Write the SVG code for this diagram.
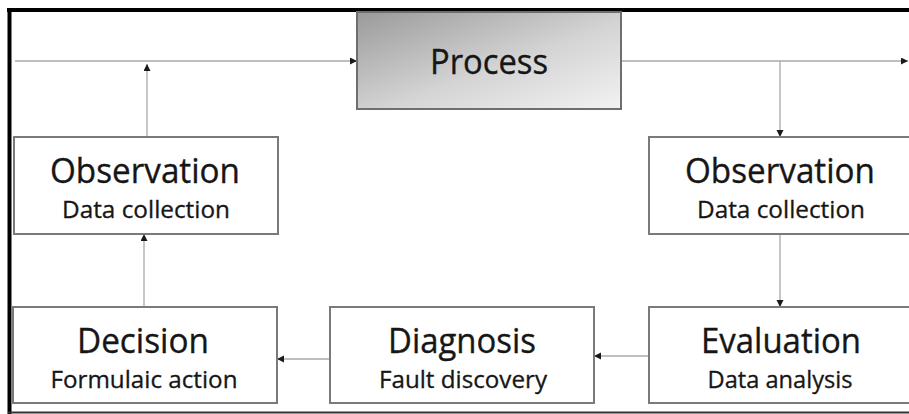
<svg xmlns="http://www.w3.org/2000/svg" width="909" height="414" viewBox="0 0 909 414">
  <defs>
    <linearGradient id="procFill" x1="0" y1="0" x2="1" y2="1">
      <stop offset="0" stop-color="#9a9a9a"/>
      <stop offset="0.55" stop-color="#d4d4d4"/>
      <stop offset="1" stop-color="#f2f2f2"/>
    </linearGradient>
    <marker id="arrow" markerUnits="userSpaceOnUse" markerWidth="8" markerHeight="8" refX="7" refY="3.5" orient="auto">
      <path d="M0,0 L7,3.5 L0,7 z" fill="#1a1a1a"/>
    </marker>
  </defs>
  <style>
    .box { fill: #ffffff; stroke: #7a7a7a; stroke-width: 2; }
    .proc { fill: url(#procFill); stroke: #6e6e6e; stroke-width: 2; }
    .title { font-family: "Open Sans", "Liberation Sans", sans-serif; font-size: 34px; fill: #161616; stroke: #161616; stroke-width: 0.35; text-anchor: middle; }
    .sub { font-family: "Open Sans", "Liberation Sans", sans-serif; font-size: 24px; fill: #161616; stroke: #161616; stroke-width: 0.3; text-anchor: middle; }
    .link { fill: none; stroke: #a8a8a8; stroke-width: 1.3; marker-end: url(#arrow); }
  </style>

  <rect width="909" height="414" fill="#ffffff"/>

  <!-- outer frame -->
  <g id="frame" fill="none" stroke="#000000">
    <line x1="7" y1="10" x2="909" y2="10" stroke-width="4"/>
    <line x1="9.5" y1="8" x2="9.5" y2="414" stroke-width="4"/>
    <line x1="8" y1="412.5" x2="909" y2="412.5" stroke-width="2" stroke="#333333"/>
  </g>

  <!-- connectors -->
  <g id="connectors">
    <line class="link" x1="15" y1="61" x2="357" y2="61"/>
    <line class="link" x1="621" y1="61" x2="908" y2="61"/>
    <line class="link" x1="780" y1="61" x2="780" y2="137"/>
    <line class="link" x1="147" y1="137" x2="147" y2="64"/>
    <line class="link" x1="780" y1="234" x2="780" y2="307"/>
    <line class="link" x1="649" y1="356" x2="594" y2="356"/>
    <line class="link" x1="330" y1="359" x2="277" y2="359"/>
    <line class="link" x1="144" y1="307" x2="144" y2="234"/>
  </g>

  <g id="process">
    <rect class="proc" x="357" y="12" width="264" height="97"/>
    <text class="title" x="489" y="74" textLength="118" lengthAdjust="spacingAndGlyphs">Process</text>
  </g>

  <g id="observation-left">
    <rect class="box" x="14" y="137" width="264" height="97"/>
    <text class="title" x="145" y="183" textLength="190" lengthAdjust="spacingAndGlyphs">Observation</text>
    <text class="sub" x="146" y="218" textLength="168" lengthAdjust="spacingAndGlyphs">Data collection</text>
  </g>

  <g id="observation-right">
    <rect class="box" x="649" y="137" width="264" height="97"/>
    <text class="title" x="780" y="183" textLength="190" lengthAdjust="spacingAndGlyphs">Observation</text>
    <text class="sub" x="781" y="218" textLength="168" lengthAdjust="spacingAndGlyphs">Data collection</text>
  </g>

  <g id="decision">
    <rect class="box" x="13" y="307" width="264" height="96"/>
    <text class="title" x="143" y="353" textLength="132" lengthAdjust="spacingAndGlyphs">Decision</text>
    <text class="sub" x="144" y="388" textLength="187" lengthAdjust="spacingAndGlyphs">Formulaic action</text>
  </g>

  <g id="diagnosis">
    <rect class="box" x="330" y="307" width="264" height="96"/>
    <text class="title" x="462" y="353" textLength="148" lengthAdjust="spacingAndGlyphs">Diagnosis</text>
    <text class="sub" x="463" y="388" textLength="168" lengthAdjust="spacingAndGlyphs">Fault discovery</text>
  </g>

  <g id="evaluation">
    <rect class="box" x="649" y="307" width="264" height="96"/>
    <text class="title" x="781" y="353" textLength="160" lengthAdjust="spacingAndGlyphs">Evaluation</text>
    <text class="sub" x="780" y="388" textLength="145" lengthAdjust="spacingAndGlyphs">Data analysis</text>
  </g>
</svg>
